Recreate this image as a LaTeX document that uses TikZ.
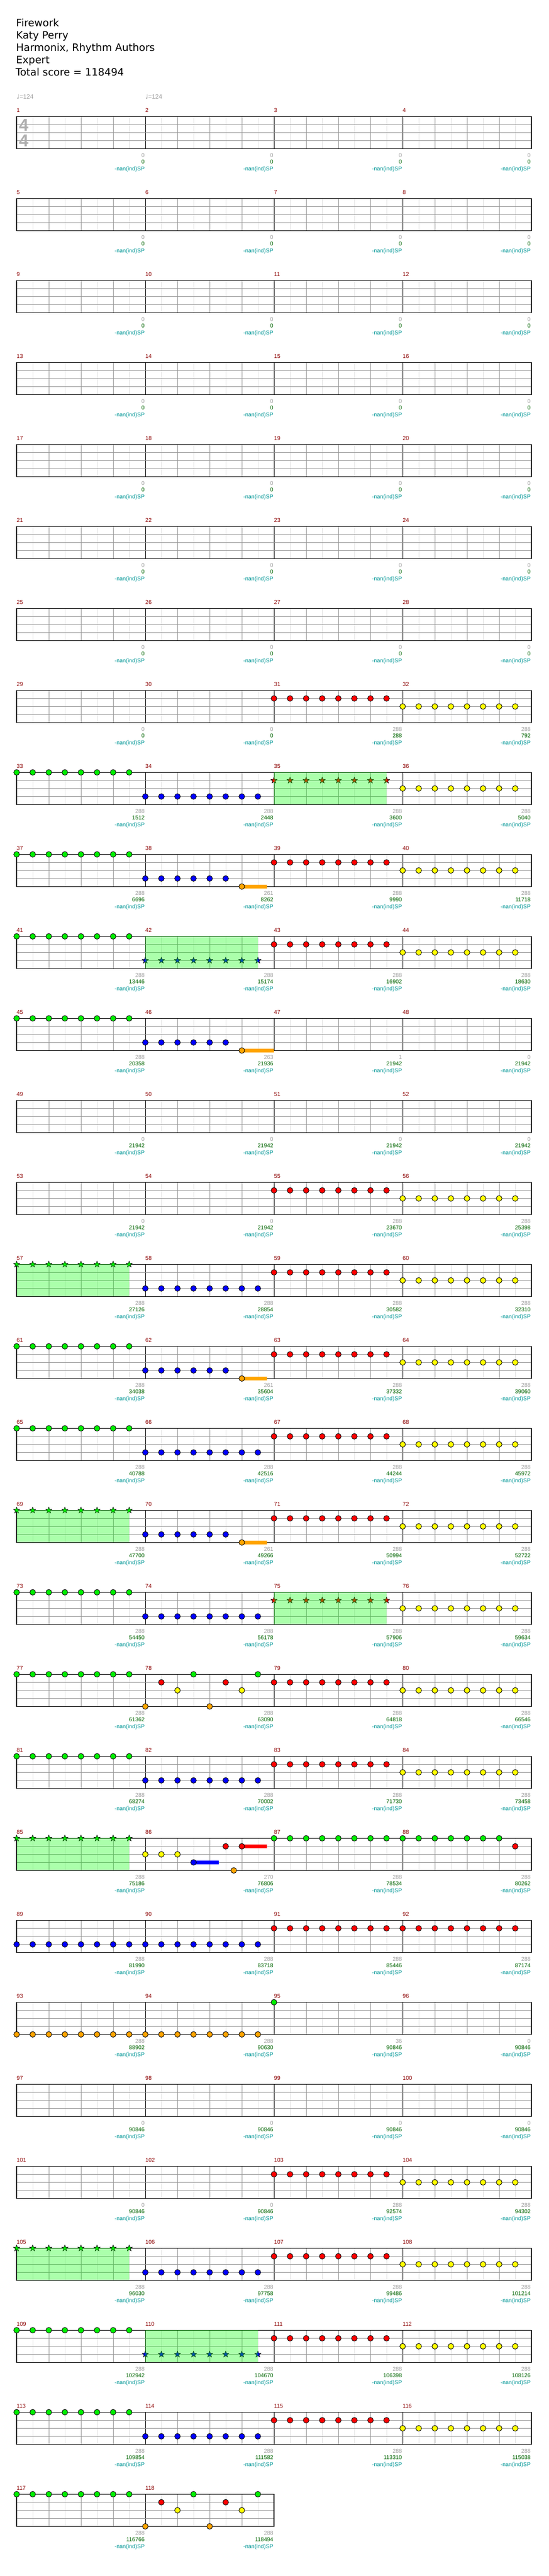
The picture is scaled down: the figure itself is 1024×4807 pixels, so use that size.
\documentclass[tikz,border=0pt]{standalone}
\usepackage{fontspec}
\setmainfont{DejaVu Sans}
\newfontfamily\smallfont{Liberation Sans}
\newfontfamily\symfont{DejaVu Sans}
\usetikzlibrary{shapes.geometric}
\definecolor{gnote}{RGB}{0,240,0}
\definecolor{rnote}{RGB}{255,0,0}
\definecolor{ynote}{RGB}{255,255,0}
\definecolor{bnote}{RGB}{0,0,255}
\definecolor{onote}{RGB}{255,165,0}
\definecolor{mnum}{RGB}{139,0,0}
\definecolor{sgray}{RGB}{160,160,160}
\definecolor{sgreen}{RGB}{0,100,0}
\definecolor{steal}{RGB}{0,150,150}
\definecolor{gridgray}{RGB}{150,150,150}
\definecolor{gridlight}{RGB}{222,222,222}
\definecolor{spfill}{RGB}{0,255,0}
\tikzset{
  gem/.style={draw=black,line width=0.9pt,fill=#1},
  stargem/.style={star,star points=5,star point ratio=2.4,minimum size=12pt,inner sep=0pt,draw=black,line width=0.7pt,fill=#1},
  sprun/.style={fill=spfill,fill opacity=0.33},
  halfline/.style={gridlight,line width=1pt},
  beatline/.style={gridgray,line width=1pt},
  barline/.style={black,line width=1pt},
  staffbox/.style={black,line width=1.5pt},
  head/.style={anchor=base west,inner sep=0pt,font=\fontsize{19}{22}\selectfont},
  tempo/.style={anchor=base west,inner sep=0pt,text=sgray,font=\smallfont\fontsize{11.5}{13}\selectfont},
  timesig/.style={inner sep=0pt,text=sgray!85,font=\smallfont\bfseries\fontsize{32}{34}\selectfont},
  mnumtxt/.style={anchor=base west,inner sep=0pt,text=mnum,font=\smallfont\fontsize{10.5}{12}\selectfont},
  scgray/.style={anchor=base east,inner sep=0pt,text=sgray,font=\smallfont\fontsize{10.5}{12}\selectfont},
  scgreen/.style={anchor=base east,inner sep=0pt,text=sgreen,font=\smallfont\fontsize{10.5}{12}\selectfont},
  scsp/.style={anchor=base east,inner sep=0pt,text=steal,font=\smallfont\fontsize{10.5}{12}\selectfont}
}
\newcommand\setm[1]{\pgfmathtruncatemacro\msys{int((#1-1)/4)}\pgfmathtruncatemacro\mpos{mod(#1-1,4)}%
  \pgfmathsetmacro\mx{31+240*\mpos}\pgfmathsetmacro\my{217.3+153*\msys}}
\newcommand\gemat[3]{\draw[gem=#3] (\mx+30*#1,\my+15*#2) circle[radius=5.3pt];}
\newcommand\gemrow[3]{\foreach \i in {0,...,#1}{\gemat{\i}{#2}{#3}}}
\newcommand\starrow[2]{\foreach \i in {0,...,7}{\node[stargem=#2] (s\m-\i) at (\mx+30*\i,\my+15*#1) {};}%
  \fill[sprun] (\mx,\my) rectangle (\mx+210,\my+60);}
\newcommand\meastext[3]{\setm{#1}%
  \node[mnumtxt] (n#1) at (\mx,\my-7.5) {#1};
  \node[scgray] (g#1) at (\mx+239,\my+76) {#2};
  \node[scgreen] (t#1) at (\mx+239,\my+88.5) {#3};
  \node[scsp] (p#1) at (\mx+239,\my+101.5) {-nan(ind)SP};}
\newcommand\patG{\gemrow{7}{0}{gnote}}
\newcommand\patR{\gemrow{7}{1}{rnote}}
\newcommand\patY{\gemrow{7}{2}{ynote}}
\newcommand\patB{\gemrow{7}{3}{bnote}}
\newcommand\patO{\gemrow{7}{4}{onote}}
\newcommand\patBO{\fill[onote] (\mx+180,\my+56.7) rectangle (\mx+226.7,\my+63.3);\gemrow{5}{3}{bnote}\gemat{6}{4}{onote}}
\newcommand\patBOL{\fill[onote] (\mx+180,\my+56.7) rectangle (\mx+240,\my+63.3);\gemrow{5}{3}{bnote}\gemat{6}{4}{onote}}
\newcommand\patSR{\starrow{1}{rnote}}
\newcommand\patSB{\starrow{3}{bnote}}
\newcommand\patSG{\starrow{0}{gnote}}
\newcommand\patX{\gemat{0}{4}{onote}\gemat{1}{1}{rnote}\gemat{2}{2}{ynote}\gemat{3}{0}{gnote}%
  \gemat{4}{4}{onote}\gemat{5}{1}{rnote}\gemat{6}{2}{ynote}\gemat{7}{0}{gnote}}
\newcommand\patF{\fill[bnote] (\mx+90,\my+41.7) rectangle (\mx+137.4,\my+48.3);
  \fill[rnote] (\mx+180,\my+11.7) rectangle (\mx+226.7,\my+18.3);
  \gemrow{2}{2}{ynote}\gemat{3}{3}{bnote}\gemat{5}{1}{rnote}\gemat{6}{1}{rnote}\gemat{5.5}{4}{onote}}
\newcommand\patGR{\gemrow{6}{0}{gnote}\gemat{7}{1}{rnote}}
\newcommand\patGone{\gemat{0}{0}{gnote}}
\begin{document}
\begin{tikzpicture}[x=1pt,y=-1pt]
\useasboundingbox (0,0) rectangle (1024,4807);
\node[head] (title) at (30,49.3) {Firework};
\node[head] (artist) at (30,72.3) {Katy Perry};
\node[head] (authors) at (30,95.3) {Harmonix, Rhythm Authors};
\node[head] (level) at (30,118.3) {Expert};
\node[head] (total) at (29,141.5) {Total score = 118494};
\node[tempo] (bpm1) at (31,184) {{\symfont ♩}=124};
\node[tempo] (bpm2) at (271,184) {{\symfont ♩}=124};
% staves
\foreach \s in {0,...,29}{
  \pgfmathsetmacro\my{217.3+153*\s}
  \pgfmathtruncatemacro\nl{\s<29 ? 31 : 15}
  \pgfmathtruncatemacro\nb{\s<29 ? 3 : 1}
  \pgfmathsetmacro\sw{\s<29 ? 960 : 480}
  \foreach \j in {1,3,...,\nl} \draw[halfline] (31+30*\j,\my) -- ++(0,60);
  \foreach \j in {2,4,...,\nl} \draw[beatline] (31+30*\j,\my) -- ++(0,60);
  \foreach \k in {1,...,\nb} \draw[barline] (31+240*\k,\my) -- ++(0,60);
  \foreach \h in {1,2,3} \draw[beatline] (31,\my+15*\h) -- (31+\sw,\my+15*\h);
  \draw[staffbox] (31,\my) rectangle (31+\sw,\my+60);
}
\node[timesig] (sigtop) at (44.3,233.3) {4};
\node[timesig] (sigbot) at (44.3,262.3) {4};
% gems
\foreach \m/\p in {31/R,32/Y,33/G,34/B,35/SR,36/Y,37/G,38/BO,39/R,40/Y,41/G,42/SB,43/R,44/Y,
  45/G,46/BOL,55/R,56/Y,57/SG,58/B,59/R,60/Y,61/G,62/BO,63/R,64/Y,65/G,66/B,67/R,68/Y,
  69/SG,70/BO,71/R,72/Y,73/G,74/B,75/SR,76/Y,77/G,78/X,79/R,80/Y,81/G,82/B,83/R,84/Y,
  85/SG,86/F,87/G,88/GR,89/B,90/B,91/R,92/R,93/O,94/O,95/Gone,103/R,104/Y,105/SG,106/B,
  107/R,108/Y,109/G,110/SB,111/R,112/Y,113/G,114/B,115/R,116/Y,117/G,118/X}{
  \setm{\m}\csname pat\p\endcsname
}
% measure numbers and scores
\foreach \m in {1,...,30} {\meastext{\m}{0}{0}}
\foreach \m in {48,...,54} {\meastext{\m}{0}{21942}}
\foreach \m in {96,...,102} {\meastext{\m}{0}{90846}}
\foreach \m/\g/\t in {31/288/288,32/288/792,33/288/1512,34/288/2448,35/288/3600,36/288/5040,
  37/288/6696,38/261/8262,39/288/9990,40/288/11718,41/288/13446,42/288/15174,43/288/16902,
  44/288/18630,45/288/20358,46/263/21936,47/1/21942,55/288/23670,56/288/25398,57/288/27126,
  58/288/28854,59/288/30582,60/288/32310,61/288/34038,62/261/35604,63/288/37332,64/288/39060,
  65/288/40788,66/288/42516,67/288/44244,68/288/45972,69/288/47700,70/261/49266,71/288/50994,
  72/288/52722,73/288/54450,74/288/56178,75/288/57906,76/288/59634,77/288/61362,78/288/63090,
  79/288/64818,80/288/66546,81/288/68274,82/288/70002,83/288/71730,84/288/73458,85/288/75186,
  86/270/76806,87/288/78534,88/288/80262,89/288/81990,90/288/83718,91/288/85446,92/288/87174,
  93/288/88902,94/288/90630,95/36/90846,103/288/92574,104/288/94302,105/288/96030,
  106/288/97758,107/288/99486,108/288/101214,109/288/102942,110/288/104670,111/288/106398,
  112/288/108126,113/288/109854,114/288/111582,115/288/113310,116/288/115038,117/288/116766,
  118/288/118494} {\meastext{\m}{\g}{\t}}
\end{tikzpicture}
\end{document}
